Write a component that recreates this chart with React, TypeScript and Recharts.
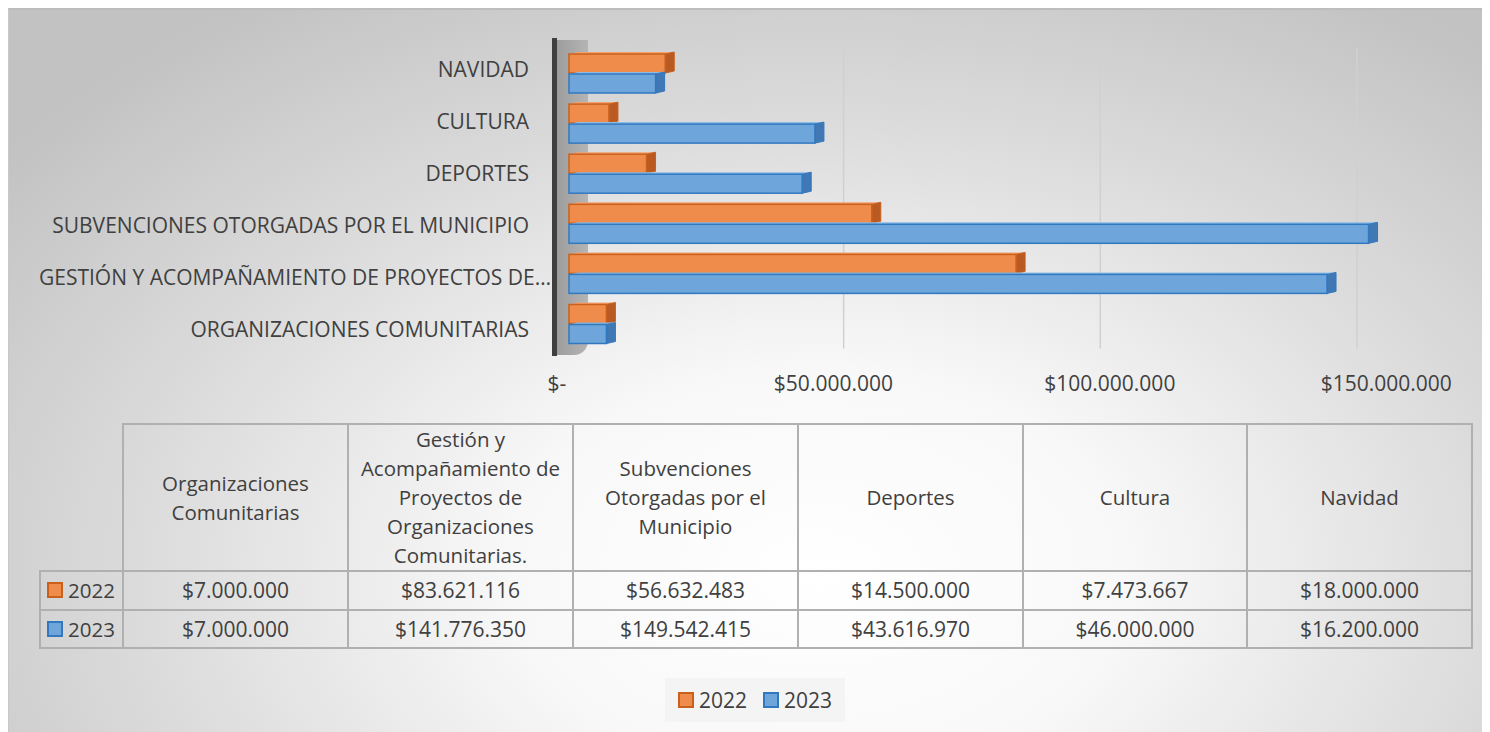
import React from 'react'
import { BarChart, Bar, XAxis, YAxis, CartesianGrid } from 'recharts'

const categories = [
  'Organizaciones Comunitarias',
  'Gestión y Acompañamiento de Proyectos de Organizaciones Comunitarias.',
  'Subvenciones Otorgadas por el Municipio',
  'Deportes',
  'Cultura',
  'Navidad',
]
const axisLabels = [
  'ORGANIZACIONES COMUNITARIAS',
  'GESTIÓN Y ACOMPAÑAMIENTO DE PROYECTOS DE…',
  'SUBVENCIONES OTORGADAS POR EL MUNICIPIO',
  'DEPORTES',
  'CULTURA',
  'NAVIDAD',
]
const tableHeaders = [
  'Organizaciones\nComunitarias',
  'Gestión y\nAcompañamiento de\nProyectos de\nOrganizaciones\nComunitarias.',
  'Subvenciones\nOtorgadas por el\nMunicipio',
  'Deportes',
  'Cultura',
  'Navidad',
]
const values2022 = [7000000, 83621116, 56632483, 14500000, 7473667, 18000000]
const values2023 = [7000000, 141776350, 149542415, 43616970, 46000000, 16200000]
const seriesNames = ['2022', '2023']
const xTicks = [0, 50000000, 100000000, 150000000]
const X_MAX = 150000000

const FONT = '"Open Sans", sans-serif'
const TEXT = '#404040'
const colors = {
  '2022': { face: '#ef8b4b', edge: '#c9611d', side: '#b85a22', top: '#f3a06c' },
  '2023': { face: '#6ea6dc', edge: '#3278bf', side: '#3f78b4', top: '#8dbbe6' },
}

const money = (v: number) => (v === 0 ? '$-' : '$' + String(v).replace(/\B(?=(\d{3})+(?!\d))/g, '.'))

const data = categories.map((c, i) => ({
  name: axisLabels[i],
  full: c,
  '2022': values2022[i],
  '2023': values2023[i],
}))

// bar with a little end cap and top face, to mimic the 3d look
const make3D = (key: '2022' | '2023') => (props: any) => {
  const { x, y, width, height } = props
  const c = colors[key]
  const d = 9
  const dy = 2
  return (
    <g>
      <polygon
        points={`${x},${y} ${x + d},${y - dy} ${x + width + d},${y - dy} ${x + width},${y}`}
        fill={c.top}
      />
      <polygon
        points={`${x + width},${y} ${x + width + d},${y - dy} ${x + width + d},${y + height - dy} ${x + width},${y + height}`}
        fill={c.side}
        stroke={c.edge}
        strokeWidth={1}
      />
      <rect x={x} y={y} width={width} height={height} fill={c.face} stroke={c.edge} strokeWidth={1.5} />
    </g>
  )
}

const YTick = (props: any) => {
  const { x, y, payload } = props
  // perspective: labels spread a bit more than the bars
  const yy = 192 + (y - 190) * 1.04
  const dx = String(payload.value).endsWith('…') ? 22 : 0
  return (
    <text x={x + dx} y={yy} dy={7} textAnchor="end" fill={TEXT} fontSize={21} fontFamily={FONT}>
      {payload.value}
    </text>
  )
}

const XTick = (props: any) => {
  const { x, y, payload } = props
  const xx = 548 + (x - 560) * 1.034
  return (
    <text x={xx} y={y} dy={42} textAnchor="middle" fill={TEXT} fontSize={21} fontFamily={FONT}>
      {money(payload.value)}
    </text>
  )
}

const Swatch = ({ k }: { k: '2022' | '2023' }) => (
  <span
    style={{
      display: 'inline-block',
      width: 12,
      height: 12,
      background: colors[k].face,
      border: `2px solid ${colors[k].edge}`,
      marginRight: 5,
    }}
  />
)

const border = '2px solid #b0b0b0'
const colWidths = [83, 225, 225, 225, 225, 224, 225]

export default function App() {
  return (
    <div
      style={{
        position: 'relative',
        width: 1474,
        height: 724,
        overflow: 'hidden',
        fontFamily: FONT,
        color: TEXT,
        background:
          'radial-gradient(ellipse 70% 95% at 55% 78%, #ffffff 0%, #f8f8f8 30%, #dcdcdc 65%, #c2c2c2 100%)',
        borderTop: '2px solid #bdbdbd',
        borderLeft: '1px solid #c8c8c8',
        boxSizing: 'border-box',
      }}
    >
      {/* 3d wall behind the category axis */}
      <div
        style={{
          position: 'absolute',
          left: 547,
          top: 30,
          width: 32,
          height: 315,
          background: 'linear-gradient(90deg, #9c9c9c, #b4b4b4)',
          borderBottomRightRadius: 14,
        }}
      />
      <div
        style={{ position: 'absolute', left: 543, top: 28, width: 5, height: 318, background: '#3f3f3f' }}
      />
      <div style={{ position: 'absolute', left: 0, top: 0 }}>
        <BarChart
          width={1474}
          height={400}
          data={data}
          layout="vertical"
          margin={{ top: 38, right: 112, bottom: 0, left: 0 }}
          barSize={19}
          barGap={1}
        >
          <CartesianGrid
            horizontal={false}
            stroke="#d0d0d0"
            strokeWidth={1.5}
            verticalCoordinatesGenerator={({ offset }: any) =>
              xTicks.slice(1).map(t => offset.left + 18 + (t / X_MAX) * offset.width * 0.96)
            }
          />
          <XAxis
            type="number"
            domain={[0, X_MAX]}
            ticks={xTicks}
            axisLine={false}
            tickLine={false}
            tickSize={0}
            tickMargin={0}
            height={61.4}
            tick={<XTick />}
          />
          <YAxis
            type="category"
            dataKey="name"
            reversed
            width={560}
            axisLine={false}
            tickLine={false}
            tickSize={0}
            tickMargin={40}
            interval={0}
            tick={<YTick />}
          />
          {seriesNames.map(s => (
            <Bar
              key={s}
              dataKey={s}
              isAnimationActive={false}
              shape={make3D(s as '2022' | '2023')}
            />
          ))}
        </BarChart>
      </div>

      <table
        style={{
          position: 'absolute',
          left: 30,
          top: 413,
          borderCollapse: 'collapse',
          tableLayout: 'fixed',
          fontSize: 21,
          textAlign: 'center',
          color: TEXT,
        }}
      >
        <colgroup>
          {colWidths.map((w, i) => (
            <col key={i} style={{ width: w }} />
          ))}
        </colgroup>
        <tbody>
          <tr style={{ height: 147 }}>
            <td style={{ borderTop: 'none', borderLeft: 'none', borderBottom: border }} />
            {tableHeaders.map((h, i) => (
              <td
                key={i}
                style={{
                  border,
                  whiteSpace: 'pre-line',
                  fontSize: 20.5,
                  lineHeight: '29px',
                  padding: 0,
                  verticalAlign: 'middle',
                }}
              >
                {h}
              </td>
            ))}
          </tr>
          {seriesNames.map(s => {
            const vals = s === '2022' ? values2022 : values2023
            return (
              <tr key={s} style={{ height: 38.5 }}>
                <td style={{ border, textAlign: 'left', paddingLeft: 6, whiteSpace: 'nowrap', fontSize: 20.5 }}>
                  <Swatch k={s as '2022' | '2023'} />
                  {s}
                </td>
                {vals.map((v, i) => (
                  <td key={i} style={{ border, padding: 0 }}>
                    {money(v)}
                  </td>
                ))}
              </tr>
            )
          })}
        </tbody>
      </table>

      <div
        style={{
          position: 'absolute',
          left: 656,
          top: 668,
          width: 180,
          height: 44,
          background: '#f4f4f4',
          display: 'flex',
          alignItems: 'center',
          justifyContent: 'center',
          gap: 16,
          fontSize: 21,
        }}
      >
        {seriesNames.map(s => (
          <span key={s} style={{ display: 'flex', alignItems: 'center' }}>
            <Swatch k={s as '2022' | '2023'} />
            {s}
          </span>
        ))}
      </div>
    </div>
  )
}
